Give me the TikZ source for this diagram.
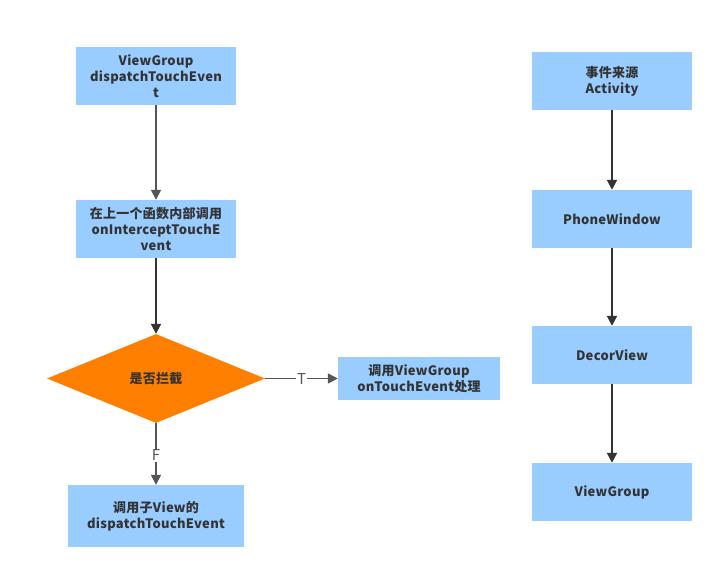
\documentclass[tikz,border=0pt]{standalone}
\usepackage{fontspec}
\setmainfont{Noto Sans CJK SC}[LetterSpace=2]
\usetikzlibrary{shapes.geometric,arrows.meta}
\definecolor{boxblue}{HTML}{99CCFF}
\definecolor{dorange}{HTML}{FF8000}
\definecolor{txt}{HTML}{333333}
\definecolor{lgray}{HTML}{555555}
\definecolor{dgray}{HTML}{333333}
\tikzset{
  bluebox/.style={draw=none,fill=boxblue,minimum width=160pt,minimum height=58pt,inner sep=0pt,align=center,text=txt,font=\fontsize{13}{16}\selectfont\bfseries},
  decision/.style={diamond,draw=none,fill=dorange,minimum width=218pt,minimum height=89pt,aspect=2.45,inner sep=0pt,text=txt,font=\fontsize{13}{16}\selectfont\bfseries},
  grayarrow/.style={draw=lgray,line width=1.6pt,-{Triangle[length=10pt,width=10pt]}},
  darkarrow/.style={draw=dgray,line width=2pt,-{Triangle[length=10pt,width=10pt]}},
  lbl/.style={fill=white,inner sep=1pt,text=lgray,font=\fontsize{15}{17}\selectfont}
}
\begin{document}
\begin{tikzpicture}[x=1pt,y=-1pt]
\useasboundingbox (0,0) rectangle (723,579);
% left column
\node[bluebox] (vg) at (156,76) {ViewGroup\\dispatchTouchEven\\t};
\node[bluebox] (intercept) at (156,229) {在上一个函数内部调用\\onInterceptTouchE\\vent};
\node[decision] (dec) at (156,378.5) {是否拦截};
\node[bluebox,minimum width=162pt,minimum height=43pt] (ontouch) at (419,378.5) {调用ViewGroup\\onTouchEvent处理};
\node[bluebox,minimum width=176pt,minimum height=62pt] (child) at (156,516) {调用子View的\\dispatchTouchEvent};
% right column
\node[bluebox] (act) at (612,81) {事件来源\\Activity};
\node[bluebox] (pw) at (612,219) {PhoneWindow};
\node[bluebox] (dv) at (612,355) {DecorView};
\node[bluebox] (vg2) at (612,492) {ViewGroup};
% connectors
\draw[grayarrow] (vg) -- (intercept);
\draw[darkarrow] (intercept) -- (dec);
\draw[grayarrow] (dec) -- node[lbl,pos=0.5] {T} (ontouch);
\draw[grayarrow] (dec) -- node[lbl,pos=0.52] {F} (child);
\draw[darkarrow] (act) -- (pw);
\draw[darkarrow] (pw) -- (dv);
\draw[darkarrow] (dv) -- (vg2);
\end{tikzpicture}
\end{document}
